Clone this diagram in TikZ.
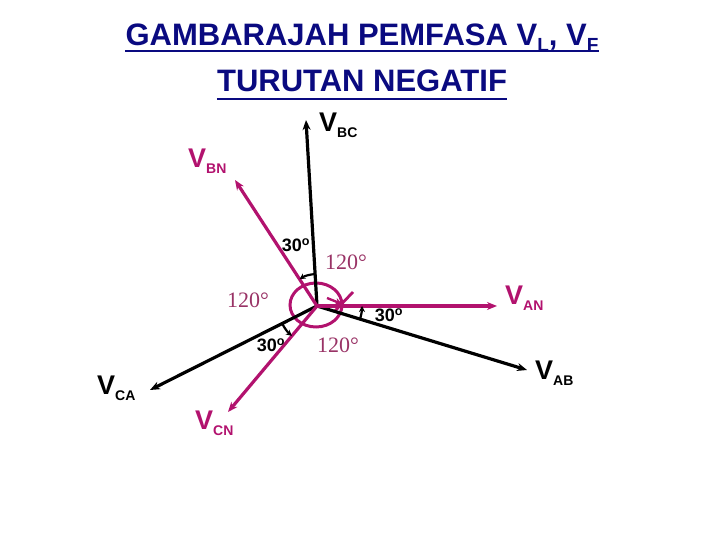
\documentclass[tikz,border=0pt]{standalone}
\usepackage{fontspec}
\setmainfont{Liberation Sans}
\newfontfamily\timesf{Liberation Serif}
\usetikzlibrary{arrows.meta,calc}
\definecolor{navy}{RGB}{10,10,128}
\definecolor{mag}{RGB}{178,18,110}
\definecolor{plum}{RGB}{153,51,102}
\tikzset{
  blkvec/.style={draw=black,line width=3.2pt,-{Stealth[length=10pt,width=8pt]}},
  magvec/.style={draw=mag,line width=3.2pt,-{Stealth[length=10pt,width=8pt]}},
  angarc/.style={draw=black,line width=2.2pt,-{Stealth[length=6pt,width=6pt]}},
  vlab/.style={anchor=base west,inner sep=0pt,font=\bfseries},
  deg/.style={inner sep=0pt,font=\bfseries\fontsize{18}{18}\selectfont},
  ang/.style={inner sep=0pt,text=plum,font=\timesf\fontsize{22}{22}\selectfont},
  ttl/.style={anchor=base,inner sep=0pt,text=navy,font=\bfseries\fontsize{31}{31}\selectfont},
  uline/.style={draw=navy,line width=2.6pt}
}
\newcommand{\vsub}[2]{{\fontsize{27}{27}\selectfont V}\raisebox{-6pt}{\fontsize{14}{14}\selectfont #2}}
\begin{document}
\begin{tikzpicture}[x=1pt,y=1pt]
\useasboundingbox (0,0) rectangle (720,540);
% title
\node[ttl] (t1) at (362,494) {GAMBARAJAH PEMFASA V\raisebox{-6pt}{\fontsize{19}{19}\selectfont L}, V\raisebox{-6pt}{\fontsize{19}{19}\selectfont F}};
\node[ttl] (t2) at (362,448) {TURUTAN NEGATIF};
\draw[uline] (t1.west |- 0,489) -- (t1.east |- 0,489);
\draw[uline] (t2.west |- 0,441) -- (t2.east |- 0,441);
% centre and tips
\coordinate (O) at (317,234);
\coordinate (bc) at (306,420);
\coordinate (bn) at (235,360);
\coordinate (an) at (497,234);
\coordinate (ab) at (527,170);
\coordinate (ca) at (150,150);
\coordinate (cn) at (228,128);
% rotation circle
\draw[draw=mag,line width=3pt] (316,235) ellipse[x radius=26,y radius=22];
\coordinate (c1) at (353,248);
\coordinate (c2) at (334,228);
\coordinate (c3) at (327,242);
\coordinate (c4) at (342,236);
\draw[draw=mag,line width=2.8pt] (c1) -- (c2);
\draw[draw=mag,line width=2.4pt,-{Stealth[length=7pt,width=7pt]}] (c3) -- (c4);
% vectors
\draw[blkvec] (O) -- (bc);
\draw[blkvec] (O) -- (ab);
\draw[blkvec] (O) -- (ca);
\draw[magvec] (O) -- (bn);
\draw[magvec] (O) -- (an);
\draw[magvec] (O) -- (cn);
% angle arcs
\draw[angarc] ([shift=(93.4:32)]O) arc[start angle=93.4,end angle=123.1,radius=32];
\draw[angarc] ([shift=(-16.9:45)]O) arc[start angle=-16.9,end angle=0,radius=45];
\draw[angarc] ([shift=(206.7:39)]O) arc[start angle=206.7,end angle=230,radius=39];
% vector labels
\node[vlab] (lbc) at (319,408) {\vsub{V}{BC}};
\node[vlab,text=mag] (lbn) at (188,372) {\vsub{V}{BN}};
\node[vlab,text=mag] (lan) at (505,235) {\vsub{V}{AN}};
\node[vlab] (lab) at (535,160) {\vsub{V}{AB}};
\node[vlab] (lca) at (97,145) {\vsub{V}{CA}};
\node[vlab,text=mag] (lcn) at (195,110) {\vsub{V}{CN}};
% angle labels
\node[deg] (d1) at (296,295) {30\textsuperscript{o}};
\node[deg] (d2) at (389,225) {30\textsuperscript{o}};
\node[deg] (d3) at (271,195) {30\textsuperscript{o}};
\node[ang] (a1) at (346,278) {120°};
\node[ang] (a2) at (248,240) {120°};
\node[ang] (a3) at (338,195) {120°};
\end{tikzpicture}
\end{document}
